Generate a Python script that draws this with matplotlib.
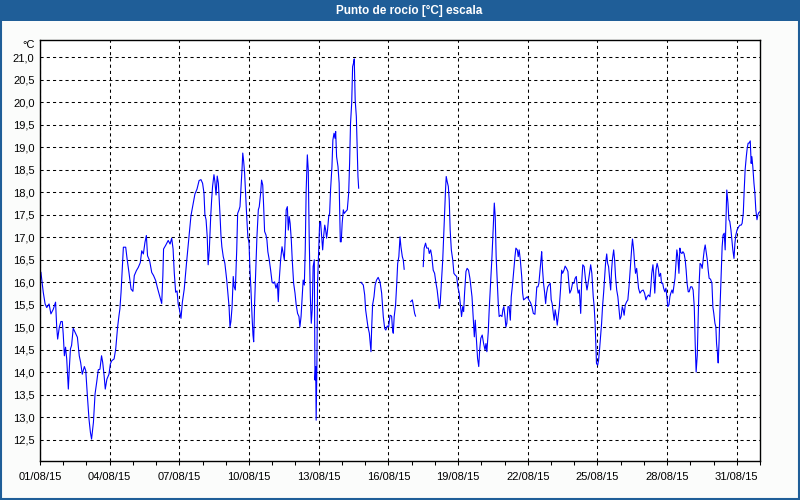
import numpy as np
import matplotlib
matplotlib.use('Agg')
import matplotlib.pyplot as plt
import matplotlib.dates as mdates
from matplotlib.ticker import FixedLocator
from matplotlib.patches import Rectangle
from datetime import datetime, timedelta

nan = float('nan')

# dias desde el 01/08/15 00:00 y punto de rocio (°C); nan = sin datos
days = [0.04, 0.14, 0.22, 0.29, 0.39, 0.47, 0.57, 0.67, 0.72, 0.76, 0.83, 0.90, 0.96, 1.00,
        1.05, 1.10, 1.15, 1.22, 1.26, 1.31, 1.36, 1.43, 1.51, 1.61, 1.69, 1.75, 1.82, 1.91,
        1.97, 2.04, 2.11, 2.17, 2.22, 2.30, 2.37, 2.44, 2.51, 2.58, 2.65, 2.70, 2.76, 2.81,
        2.88, 2.97, 3.03, 3.09, 3.19, 3.26, 3.34, 3.40, 3.44, 3.49, 3.54, 3.59, 3.69, 3.75,
        3.83, 3.92, 4.00, 4.06, 4.15, 4.23, 4.32, 4.38, 4.45, 4.52, 4.58, 4.63, 4.72, 4.81,
        4.89, 4.98, 5.06, 5.15, 5.24, 5.29, 5.32, 5.42, 5.52, 5.60, 5.67, 5.73, 5.78, 5.84,
        5.90, 5.95, 6.00, 6.07, 6.13, 6.21, 6.31, 6.41, 6.50, 6.59, 6.67, 6.76, 6.85, 6.93,
        7.00, 7.06, 7.10, 7.15, 7.20, 7.24, 7.29, 7.35, 7.39, 7.43, 7.49, 7.53, 7.58, 7.63,
        7.68, 7.75, 7.79, 7.83, 7.89, 7.96, 8.04, 8.09, 8.14, 8.18, 8.22, 8.27, 8.32, 8.36,
        8.41, 8.47, 8.51, 8.57, 8.61, 8.65, 8.70, 8.73, 8.77, 8.81, 8.85, 8.90, 8.95, 9.00,
        9.04, 9.08, 9.13, 9.17, 9.20, 9.24, 9.30, 9.34, 9.40, 9.44, 9.50, 9.54, 9.59, 9.63,
        9.67, 9.73, 9.77, 9.81, 9.87, 9.93, 9.99, 10.04, 10.10, 10.16, 10.22, 10.26, 10.30,
        10.36, 10.42, 10.47, 10.52, 10.56, 10.60, 10.65, 10.69, 10.73, 10.77, 10.82, 10.86,
        10.92, 10.98, 11.03, 11.09, 11.15, 11.19, 11.24, 11.28, 11.33, 11.38, 11.42, 11.46,
        11.51, 11.55, 11.59, 11.64, 11.68, 11.72, 11.76, 11.81, 11.84, 11.87, 11.89, 11.92,
        11.95, 12.00, 12.04, 12.08, 12.13, 12.17, 12.21, 12.26, 12.30, 12.34, 12.38, 12.43,
        12.47, 12.51, 12.57, 12.61, 12.66, 12.70, 12.73, 12.77, 12.83, 12.88, 12.93, 12.97,
        13.01, 13.06, 13.10, 13.16, 13.23, 13.29, 13.33, 13.37, 13.42, 13.46, 13.50, 13.53,
        13.57, 13.62, 13.66, 13.69, 13.72, 13.77,
        13.82, 13.92, 13.98, 14.02, 14.06, 14.12, 14.18, 14.22, 14.25, 14.28, 14.32, 14.38,
        14.43, 14.49, 14.56, 14.64, 14.71, 14.78, 14.84, 14.89, 14.95, 15.01, 15.07, 15.14,
        15.18, 15.21, 15.25, 15.31, 15.36, 15.40, 15.45, 15.50, 15.54, 15.60, 15.64, 15.68,
        15.80,
        15.96, 16.03, 16.07, 16.13, 16.17, 16.30,
        16.50, 16.54, 16.60, 16.65, 16.72, 16.76, 16.82, 16.87, 16.93, 16.99, 17.05, 17.10,
        17.15, 17.19, 17.23, 17.28, 17.34, 17.38, 17.42, 17.46, 17.49, 17.53, 17.58, 17.62,
        17.66, 17.71, 17.77, 17.82, 17.88, 17.94, 17.99, 18.05, 18.11, 18.15, 18.20, 18.24,
        18.28, 18.34, 18.39, 18.45, 18.51, 18.55, 18.60, 18.65, 18.70, 18.74, 18.80, 18.84,
        18.89, 18.93, 18.98, 19.04, 19.10, 19.16, 19.20, 19.24, 19.30, 19.34, 19.40, 19.46,
        19.51, 19.56, 19.60, 19.64, 19.69, 19.73, 19.77, 19.83, 19.89, 19.93, 19.97, 20.02,
        20.06, 20.10, 20.15, 20.20, 20.25, 20.29, 20.35, 20.40, 20.45, 20.49, 20.55, 20.59,
        20.63, 20.68, 20.74, 20.78, 20.82, 20.89, 20.98, 21.05, 21.12, 21.18, 21.24, 21.31,
        21.35, 21.39, 21.44, 21.48, 21.52, 21.57, 21.60, 21.64, 21.68, 21.73, 21.77, 21.81,
        21.86, 21.91, 21.97, 22.01, 22.05, 22.10, 22.14, 22.18, 22.23, 22.27, 22.31, 22.36,
        22.41, 22.46, 22.50, 22.56, 22.61, 22.67, 22.73, 22.77, 22.81, 22.87, 22.93, 22.99,
        23.04, 23.09, 23.13, 23.17, 23.22, 23.28, 23.32, 23.37, 23.43, 23.49, 23.55, 23.60,
        23.66, 23.71, 23.76, 23.82, 23.86, 23.90, 23.93, 23.96, 24.01, 24.05, 24.09, 24.14,
        24.18, 24.22, 24.27, 24.31, 24.35, 24.40, 24.44, 24.48, 24.52, 24.57, 24.61, 24.65,
        24.70, 24.74, 24.78, 24.83, 24.88, 24.92, 24.97, 25.02, 25.07, 25.11, 25.15, 25.20,
        25.26, 25.31, 25.36, 25.40, 25.44, 25.48, 25.51, 25.56, 25.60, 25.64, 25.69, 25.73,
        25.77, 25.83, 25.90, 25.97, 26.03, 26.09, 26.14, 26.20, 26.26, 26.30, 26.34, 26.39,
        26.43, 26.47, 26.52, 26.57, 26.62, 26.66, 26.72, 26.76, 26.81, 26.85, 26.90, 26.95,
        26.99, 27.03, 27.08, 27.12, 27.16, 27.21, 27.25, 27.29, 27.34, 27.38, 27.42, 27.46,
        27.51, 27.55, 27.59, 27.64, 27.68, 27.73, 27.78, 27.82, 27.86, 27.91, 27.95, 28.01,
        28.07, 28.12, 28.17, 28.21, 28.25, 28.30, 28.34, 28.38, 28.42, 28.47, 28.51, 28.55,
        28.60, 28.64, 28.68, 28.73, 28.77, 28.81, 28.87, 28.93, 28.97, 29.01, 29.06, 29.10,
        29.13, 29.17, 29.20, 29.24, 29.28, 29.33, 29.37, 29.41, 29.46, 29.50, 29.53, 29.57,
        29.62, 29.66, 29.70, 29.75, 29.79, 29.83, 29.88, 29.92, 29.96, 30.01, 30.05, 30.09,
        30.14, 30.19, 30.23, 30.28, 30.32, 30.36, 30.41, 30.45, 30.49, 30.53, 30.58, 30.62,
        30.65, 30.69, 30.74, 30.78, 30.82, 30.87, 30.91, 30.95, 31.00]

dew = [16.22, 15.78, 15.52, 15.44, 15.52, 15.30, 15.40, 15.56, 15.00, 14.74, 15.00, 15.13, 15.13, 14.85,
       14.37, 14.56, 14.30, 13.63, 14.07, 14.52, 14.60, 14.98, 14.89, 14.78, 14.37, 14.22, 13.96, 14.13,
       14.04, 13.48, 12.96, 12.67, 12.52, 12.89, 13.52, 13.78, 14.06, 14.07, 14.37, 14.22, 13.93, 13.63,
       13.85, 13.96, 14.19, 14.26, 14.30, 14.52, 15.00, 15.26, 15.41, 15.78, 16.26, 16.78, 16.78, 16.52,
       16.22, 15.85, 15.80, 16.15, 16.26, 16.33, 16.44, 16.70, 16.63, 16.89, 17.04, 16.59, 16.48, 16.22,
       16.15, 16.04, 15.87, 15.70, 15.53, 16.15, 16.74, 16.83, 16.93, 16.85, 16.98, 16.74, 16.22, 15.78,
       15.81, 15.52, 15.41, 15.20, 15.56, 15.85, 16.44, 17.00, 17.48, 17.74, 17.96, 18.07, 18.26, 18.28,
       18.20, 17.98, 17.50, 17.39, 17.01, 16.39, 16.72, 17.46, 17.83, 18.13, 18.39, 18.24, 17.94, 18.36,
       18.20, 17.50, 17.05, 16.79, 16.57, 16.42, 16.05, 15.76, 15.46, 15.01, 15.13, 15.46, 16.13, 15.90,
       15.83, 16.72, 17.53, 17.61, 17.68, 18.05, 18.53, 18.87, 18.68, 18.42, 17.98, 17.46, 17.01, 16.87,
       16.27, 15.87, 15.24, 14.83, 14.68, 15.53, 16.42, 17.01, 17.61, 17.68, 17.98, 18.27, 18.16, 17.68,
       17.13, 17.05, 16.94, 16.68, 16.50, 16.27, 16.01, 15.98, 16.01, 15.87, 15.98, 15.57, 16.05,
       16.50, 16.79, 16.64, 16.50, 17.01, 17.61, 17.68, 17.16, 17.46, 17.31, 16.94, 16.50,
       15.98, 15.76, 15.50, 15.31, 15.24, 15.01, 15.24, 15.61, 16.05, 15.94, 16.72, 18.05,
       18.83, 18.50, 17.01, 15.68, 15.09, 15.39, 16.35, 16.50, 13.83, 14.13, 12.94, 14.06,
       15.98, 16.72, 17.31, 17.35, 17.01, 16.72, 17.01, 17.27, 17.16, 16.98, 17.16, 17.46,
       17.53, 18.05, 18.57, 19.16, 19.31, 19.20, 19.35, 18.79, 18.57, 18.20, 16.90, 16.90,
       17.31, 17.61, 17.53, 17.57, 17.61, 17.98, 18.64, 19.53, 19.98, 20.79, 20.87, 20.96,
       20.05, 19.68, 18.94, 18.35, 18.09, nan,
       16.00, 15.94, 15.72, 15.39, 15.24, 15.01, 14.87, 14.64, 14.46, 14.98, 15.50, 15.68,
       15.94, 16.05, 16.11, 16.01, 15.76, 15.24, 14.98, 14.94, 15.03, 15.01, 15.27, 15.25,
       14.94, 14.87, 15.24, 15.50, 15.98, 16.42, 16.57, 17.01, 16.79, 16.57, 16.50, 16.29,
       nan,
       15.57, 15.61, 15.50, 15.31, 15.25, nan,
       16.35, 16.76, 16.87, 16.76, 16.76, 16.64, 16.72, 16.57, 16.27, 16.20, 15.98, 15.83,
       15.61, 15.42, 15.53, 15.98, 16.50, 17.01, 17.46, 18.05, 18.35, 18.24, 18.13, 17.83,
       17.16, 16.72, 16.50, 16.20, 16.16, 16.13, 15.90, 15.76, 15.46, 15.24, 15.46, 15.35,
       15.76, 16.24, 16.31, 16.27, 16.09, 15.90, 15.68, 15.24, 14.79, 15.16, 14.64, 14.31,
       14.13, 14.50, 14.76, 14.83, 14.64, 14.50, 14.64, 14.46, 14.90, 15.39, 15.98, 16.57,
       17.16, 17.76, 17.46, 16.57, 15.98, 15.53, 15.24, 15.27, 15.24, 15.39, 15.46, 15.24,
       15.01, 15.09, 15.46, 15.46, 15.16, 15.68, 15.98, 16.27, 16.57, 16.76, 16.72, 16.57,
       16.72, 16.50, 16.13, 15.76, 15.61, 15.64, 15.68, 15.61, 15.55, 15.46, 15.31, 15.29,
       15.61, 15.90, 15.90, 15.98, 16.20, 16.50, 16.68, 16.27, 15.98, 15.76, 15.53, 15.76,
       15.90, 15.94, 15.98, 15.61, 15.53, 15.31, 15.16, 15.39, 15.24, 15.05, 15.24, 15.46,
       15.83, 16.27, 16.20, 16.27, 16.36, 16.31, 16.24, 15.98, 15.76, 15.83, 15.98, 15.98,
       16.09, 16.13, 15.90, 15.76, 15.83, 15.31, 15.98, 16.39, 16.35, 16.05, 15.83, 15.98,
       16.20, 16.39, 16.20, 15.68, 15.46, 15.09, 14.64, 14.20, 14.16, 14.27, 14.50, 14.83,
       15.09, 15.46, 15.79, 16.09, 16.42, 16.63, 16.42, 16.35, 16.13, 15.83, 16.27, 16.53,
       16.72, 16.50, 16.13, 15.83, 15.68, 15.46, 15.18, 15.24, 15.46, 15.39, 15.27, 15.50,
       15.57, 15.61, 15.90, 16.20, 16.50, 16.79, 16.96, 16.72, 16.42, 16.20, 16.31, 16.09,
       15.87, 15.76, 15.81, 15.83, 15.76, 15.61, 15.68, 15.72, 15.68, 15.90, 16.20, 16.39,
       16.13, 15.76, 16.27, 16.42, 16.31, 16.13, 16.20, 15.98, 15.98, 15.87, 15.79, 15.87,
       15.68, 15.46, 15.50, 15.68, 15.76, 15.83, 15.76, 15.90, 16.09, 16.42, 16.72, 16.57,
       16.20, 16.76, 16.66, 16.64, 16.68, 16.64, 16.50, 16.27, 15.98, 15.79, 15.79, 15.90,
       15.90, 15.83, 15.46, 14.64, 14.01, 14.39, 15.24, 15.98, 16.42, 16.39, 16.31, 16.50,
       16.72, 16.83, 16.68, 16.50, 16.27, 16.09, 16.07, 15.98, 15.46, 15.31, 15.09, 15.01,
       14.64, 14.42, 14.21, 14.72, 15.46, 16.20, 16.79, 17.05, 17.09, 16.72, 17.31, 18.05,
       17.76, 17.39, 17.35, 17.16, 16.94, 16.72, 16.53, 16.87, 17.05, 17.16, 17.20, 17.24,
       17.27, 17.27, 17.31, 17.53, 18.05, 18.50, 18.79, 18.98, 19.09, 19.09, 19.14, 18.64,
       18.79, 18.57, 18.20, 17.98, 17.61, 17.39, 17.50, 17.55, 17.57]

yticks = [12.5, 13.0, 13.5, 14.0, 14.5, 15.0, 15.5, 16.0, 16.5, 17.0, 17.5, 18.0, 18.5,
          19.0, 19.5, 20.0, 20.5, 21.0]

start = datetime(2015, 8, 1)
times = [start + timedelta(days=d) for d in days]
# etiquetas cada 3 dias, del 01/08 al 31/08
major_days = [start + timedelta(days=i) for i in range(0, 31, 3)]
minor_days = [start + timedelta(days=i) for i in range(0, 32)]

W, H = 800, 500
blue = '#1f5e98'
fig = plt.figure(figsize=(8, 5), dpi=100, facecolor='#fbfcfb')

# barra de titulo y marco de la ventana
bar_h = 21
fig.patches.append(Rectangle((0, 1 - bar_h / H), 1, bar_h / H, transform=fig.transFigure,
                             facecolor=blue, edgecolor='none', zorder=0))
fig.patches.append(Rectangle((0.75 / W, 1.0 / H), 1 - 2.0 / W, 1 - 1.5 / H, transform=fig.transFigure,
                             facecolor='none', edgecolor=blue, linewidth=1.5, zorder=5))
fig.text(0.511, 1 - 10.5 / H, 'Punto de rocío [°C] escala', color='white', fontweight='bold',
         fontsize=8.5, family='Liberation Sans', ha='center', va='center')

ax = fig.add_axes([40 / W, 1 - 460.7 / H, 720 / W, 420.7 / H])
ax.set_facecolor('white')
ax.plot(times, dew, color='#0000ff', linewidth=0.8)

ax.set_xlim(start, start + timedelta(days=31))
ax.set_ylim(12.04, 21.38)
ax.set_yticks(yticks)
ax.set_yticklabels([f'{v:.1f}'.replace('.', ',') for v in yticks])

ax.xaxis.set_major_locator(FixedLocator(mdates.date2num(major_days)))
ax.xaxis.set_minor_locator(FixedLocator(mdates.date2num(minor_days)))
ax.xaxis.set_major_formatter(mdates.DateFormatter('%d/%m/%y'))

ax.grid(True, which='major', color='black', linestyle=(0, (3, 3)), linewidth=0.75)
ax.tick_params(axis='x', which='both', direction='out', length=3, width=0.75, pad=5,
               labelsize=8, colors='black')
ax.tick_params(axis='y', length=0, pad=4, labelsize=8)
for lab in ax.get_xticklabels() + ax.get_yticklabels():
    lab.set_family('Liberation Sans')
for s in ax.spines.values():
    s.set_linewidth(1)
    s.set_color('black')

fig.text(35 / W, 1 - 45 / H, '°C', fontsize=8, family='Liberation Sans', ha='right', va='center')

fig.savefig('out.png', dpi=100, facecolor=fig.get_facecolor())
